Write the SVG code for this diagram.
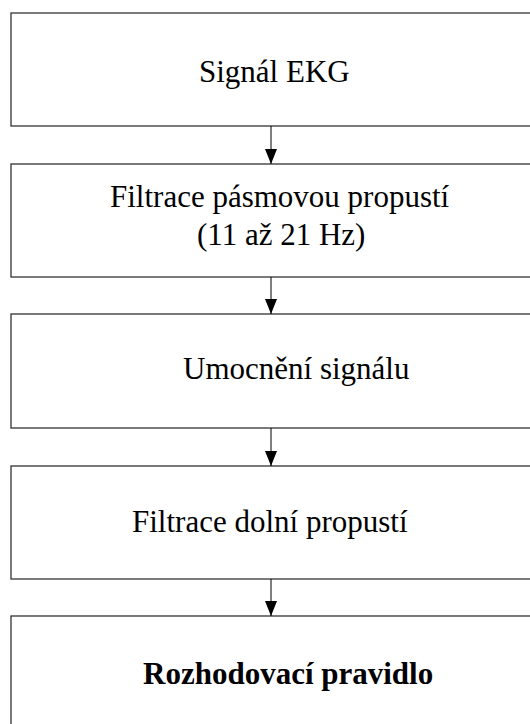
<svg xmlns="http://www.w3.org/2000/svg" width="530" height="724" viewBox="0 0 530 724">
<defs>
<style>
.box{fill:#fff;stroke:#333;stroke-width:1.3}
.t{font-family:"Liberation Serif","Times New Roman",serif;font-size:31px;fill:#000}
.b{font-weight:bold}
.c{stroke:#000;stroke-width:1;fill:none;marker-end:url(#ah)}
</style>
<marker id="ah" markerUnits="userSpaceOnUse" markerWidth="15" markerHeight="12" refX="15" refY="6" orient="auto" viewBox="0 0 15 12">
<path d="M0,0 L15,6 L0,12 Z" fill="#000"/>
</marker>
</defs>
<rect width="530" height="724" fill="#fff"/>
<g id="n1"><rect class="box" x="11" y="13" width="530" height="113"/><text class="t" x="199" y="82">Signál EKG</text></g>
<g id="n2"><rect class="box" x="11" y="164" width="530" height="113"/><text class="t" x="110" y="207">Filtrace pásmovou propustí</text><text class="t" x="197" y="245">(11 až 21 Hz)</text></g>
<g id="n3"><rect class="box" x="11" y="314" width="530" height="114"/><text class="t" x="183" y="379">Umocnění signálu</text></g>
<g id="n4"><rect class="box" x="11" y="466" width="530" height="113"/><text class="t" x="132" y="532">Filtrace dolní propustí</text></g>
<g id="n5"><rect class="box" x="11" y="616" width="530" height="120"/><text class="t b" x="143" y="684">Rozhodovací pravidlo</text></g>
<g id="connectors">
<path class="c" d="M271,126 V164"/>
<path class="c" d="M271,277 V314"/>
<path class="c" d="M271,428 V466"/>
<path class="c" d="M271,579 V616"/>
</g>
</svg>
